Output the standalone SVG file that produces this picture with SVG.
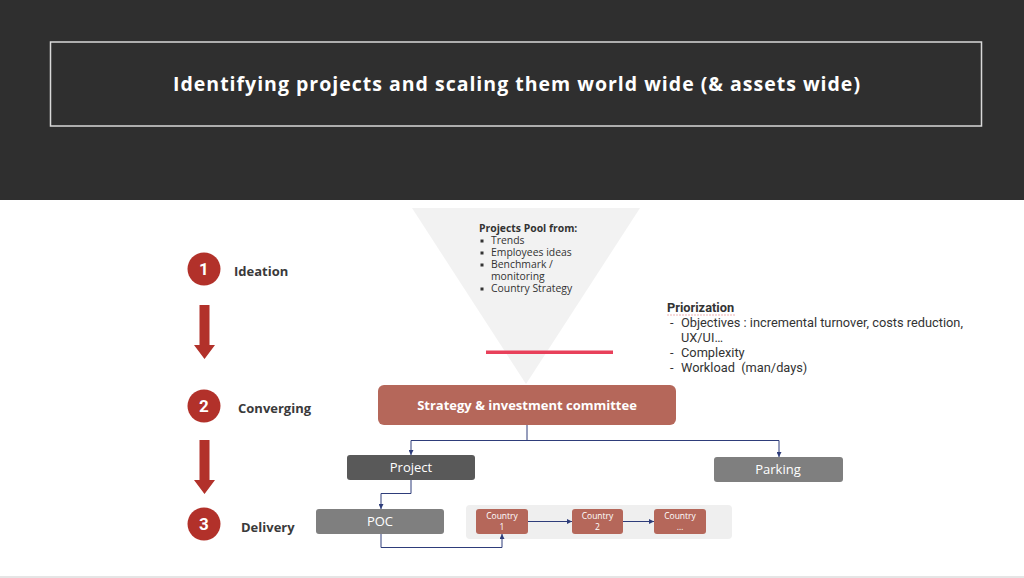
<svg xmlns="http://www.w3.org/2000/svg" width="1024" height="578" viewBox="0 0 1024 578">
<defs>
<marker id="ah" viewBox="0 0 6 6" refX="6" refY="3" markerWidth="5" markerHeight="5" orient="auto" markerUnits="userSpaceOnUse">
<path d="M0,0 L6,3 L0,6 z" fill="#2e3d7a"/>
</marker>
<style>
.lbl{font-family:"Open Sans","Liberation Sans",sans-serif;font-weight:700;font-size:13px;fill:#3a3a3a}
.num{font-family:"Roboto","Liberation Sans",sans-serif;font-weight:700;font-size:17px;fill:#fff;text-anchor:middle}
.circ{fill:#b2312a}
.bigarrow{fill:#b2312a}
.box{font-family:"Open Sans","Liberation Sans",sans-serif;fill:#fff;text-anchor:middle}
.pool{font-family:"Open Sans","Liberation Sans",sans-serif;font-size:10.4px;fill:#333}
.prio{font-family:"Roboto","Liberation Sans",sans-serif;font-size:12.8px;fill:#333;white-space:pre}
.conn{fill:none;stroke:#2e3d7a;stroke-width:1}
.red{fill:#b5675a}
</style>
</defs>
<rect x="0" y="0" width="1024" height="578" fill="#fff"/>
<rect x="0" y="0" width="1024" height="200" fill="#2f2f2f"/>
<g id="title">
<rect x="50.5" y="42" width="931" height="84" fill="none" stroke="#d9d9d9" stroke-width="1.5"/>
<text x="173" y="91" textLength="687" lengthAdjust="spacing" font-family="'Open Sans','Liberation Sans',sans-serif" font-weight="700" font-size="19.5" fill="#fff">Identifying projects and scaling them world wide (&amp; assets wide)</text>
</g>
<line x1="0" y1="577" x2="1024" y2="577" stroke="#dcdcdc" stroke-width="1.5"/>

<g id="funnel">
<polygon points="412,208 640,208 526,384" fill="#f2f2f2"/>
<text class="pool" x="479" y="232" font-weight="700">Projects Pool from:</text>
<g class="pool">
<rect x="480.5" y="239.5" width="3" height="3" fill="#333"/>
<text x="491" y="244">Trends</text>
<rect x="480.5" y="251.5" width="3" height="3" fill="#333"/>
<text x="491" y="256">Employees ideas</text>
<rect x="480.5" y="263.5" width="3" height="3" fill="#333"/>
<text x="491" y="268">Benchmark /</text>
<text x="491" y="280">monitoring</text>
<rect x="480.5" y="287.5" width="3" height="3" fill="#333"/>
<text x="491" y="292">Country Strategy</text>
</g>
<rect x="486" y="350.5" width="127" height="3.5" fill="#e8405a"/>
</g>

<g id="priorization">
<text class="prio" x="667" y="312" font-weight="700">Priorization</text>
<line x1="667" y1="315" x2="735" y2="315" stroke="#e8a0a0" stroke-width="0.8" stroke-dasharray="2,1"/>
<text class="prio" x="670" y="327">-</text><text class="prio" x="681" y="327">Objectives : incremental turnover, costs reduction,</text>
<text class="prio" x="681" y="342">UX/UI…</text>
<text class="prio" x="670" y="357">-</text><text class="prio" x="681" y="357">Complexity</text>
<text class="prio" x="670" y="372">-</text><text class="prio" x="681" y="372">Workload  (man/days)</text>
</g>

<g id="stage1">
<circle class="circ" cx="204" cy="269" r="16.5"/>
<text class="num" x="204" y="275">1</text>
<text class="lbl" x="234" y="276">Ideation</text>
</g>
<g id="arrow1"><polygon class="bigarrow" points="199.5,305 209.5,305 209.5,345 215,345 204.5,359 194,345 199.5,345"/></g>
<g id="stage2">
<circle class="circ" cx="204" cy="406" r="16.5"/>
<text class="num" x="204" y="412">2</text>
<text class="lbl" x="238" y="413">Converging</text>
</g>
<g id="arrow2"><polygon class="bigarrow" points="199.5,440 209.5,440 209.5,480 215,480 204.5,494 194,480 199.5,480"/></g>
<g id="stage3">
<circle class="circ" cx="204" cy="524" r="16.5"/>
<text class="num" x="204" y="530">3</text>
<text class="lbl" x="241" y="532">Delivery</text>
</g>

<g id="committee">
<rect class="red" x="378" y="385" width="298" height="40" rx="6"/>
<text class="box" x="527" y="410" font-size="13" font-weight="700">Strategy &amp; investment committee</text>
</g>
<g id="project">
<rect x="347" y="455" width="128" height="25" rx="3" fill="#595959"/>
<text class="box" x="411" y="472" font-size="13">Project</text>
</g>
<g id="parking">
<rect x="714" y="457" width="129" height="25" rx="3" fill="#7f7f7f"/>
<text class="box" x="778" y="474" font-size="13">Parking</text>
</g>
<g id="poc">
<rect x="316" y="509" width="128" height="25" rx="3" fill="#7f7f7f"/>
<text class="box" x="380" y="526" font-size="13">POC</text>
</g>
<g id="countries-bg">
<rect x="466" y="505" width="266" height="34" rx="4" fill="#efefef"/>
</g>
<g id="country1">
<rect class="red" x="476" y="509" width="52" height="25" rx="3"/>
<text class="box" x="502" y="519" font-size="8.5">Country</text>
<text class="box" x="502" y="530" font-size="8.5">1</text>
</g>
<g id="country2">
<rect class="red" x="572" y="509" width="51" height="25" rx="3"/>
<text class="box" x="597.5" y="519" font-size="8.5">Country</text>
<text class="box" x="597.5" y="530" font-size="8.5">2</text>
</g>
<g id="country3">
<rect class="red" x="654" y="509" width="52" height="25" rx="3"/>
<text class="box" x="680" y="519" font-size="8.5">Country</text>
<text class="box" x="680" y="530" font-size="8.5">…</text>
</g>

<g id="connectors">
<path class="conn" d="M527,425 V440.5 H411 V455" marker-end="url(#ah)"/>
<path class="conn" d="M527,440.5 H779 V457" marker-end="url(#ah)"/>
<path class="conn" d="M411,480 V493.5 H381 V509" marker-end="url(#ah)"/>
<path class="conn" d="M381,534 V547.5 H502 V534" marker-end="url(#ah)"/>
<path class="conn" d="M528,521.5 H572" marker-end="url(#ah)"/>
<path class="conn" d="M623,521.5 H654" marker-end="url(#ah)"/>
</g>
</svg>
